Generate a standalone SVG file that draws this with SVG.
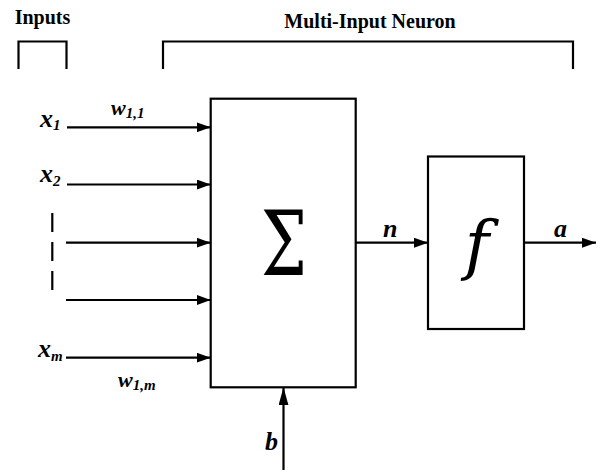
<svg xmlns="http://www.w3.org/2000/svg" width="600" height="475" viewBox="0 0 600 475">
<defs>
<style>
.ln{stroke:#000;stroke-width:2.2;fill:none}
.box{stroke:#000;stroke-width:2.2;fill:#fff}
.t{font-family:"Liberation Serif","Times New Roman",serif;fill:#000}
.hd{font-weight:bold;font-size:20px}
.v{font-style:italic;font-weight:bold;font-size:26px}
.w{font-style:italic;font-weight:bold;font-size:22px}
.sub{font-size:15px}
.big{font-family:"DejaVu Serif",serif;font-style:italic;font-weight:normal;font-size:66px}
.sig{font-family:"DejaVu Serif",serif;font-style:normal;font-weight:normal;font-size:90px}
</style>
<marker id="ah" markerUnits="userSpaceOnUse" markerWidth="14" markerHeight="10" refX="14" refY="5" orient="auto">
<path d="M0,0 L14,5 L0,10 Z" fill="#000"/>
</marker>
<marker id="ahv" markerUnits="userSpaceOnUse" markerWidth="18" markerHeight="10" refX="18" refY="5" orient="auto">
<path d="M0,0 L18,5 L0,10 Z" fill="#000"/>
</marker>
</defs>
<rect width="600" height="475" fill="#fff"/>
<g id="headers">
<text class="t hd" x="42.5" y="24" text-anchor="middle">Inputs</text>
<text class="t hd" x="370" y="28" text-anchor="middle">Multi-Input Neuron</text>
<path class="ln" d="M18.5,69 V41.5 H66.5 V69"/>
<path class="ln" d="M163,69 V41.5 H573 V69"/>
</g>
<g id="sum">
<rect class="box" x="210.7" y="98.7" width="145" height="288.6"/>
<text class="sig" x="261" y="275" textLength="46" lengthAdjust="spacingAndGlyphs">Σ</text>
</g>
<g id="f">
<rect class="box" x="428" y="156.5" width="96" height="172.5"/>
<text class="big" x="477" y="267" text-anchor="middle">f</text>
</g>
<g id="connectors">
<line class="ln" x1="67" y1="127.3" x2="210.7" y2="127.3" marker-end="url(#ah)"/>
<line class="ln" x1="67" y1="184.5" x2="210.7" y2="184.5" marker-end="url(#ah)"/>
<line class="ln" x1="66" y1="242.7" x2="210.7" y2="242.7" marker-end="url(#ah)"/>
<line class="ln" x1="66" y1="300" x2="210.7" y2="300" marker-end="url(#ah)"/>
<line class="ln" x1="66" y1="357.7" x2="210.7" y2="357.7" marker-end="url(#ah)"/>
<line class="ln" x1="52.3" y1="213" x2="52.3" y2="290" stroke-dasharray="19 10"/>
<line class="ln" x1="355.7" y1="242.7" x2="428" y2="242.7" marker-end="url(#ah)"/>
<line class="ln" x1="524" y1="242.7" x2="596" y2="242.7" marker-end="url(#ah)"/>
<line class="ln" x1="283.5" y1="470" x2="283.5" y2="387.3" marker-end="url(#ahv)"/>
</g>
<g id="labels">
<text class="t v" x="40" y="127">x<tspan class="sub" dy="3">1</tspan></text>
<text class="t v" x="40" y="182">x<tspan class="sub" dy="4">2</tspan></text>
<text class="t v" x="38" y="357">x<tspan class="sub" dy="4">m</tspan></text>
<text class="t w" x="111" y="115">w<tspan class="sub" dy="3">1,1</tspan></text>
<text class="t w" x="118" y="387">w<tspan class="sub" dy="3">1,m</tspan></text>
<text class="t v" x="383" y="237">n</text>
<text class="t v" x="554" y="237">a</text>
<text class="t v" x="265" y="450">b</text>
</g>
</svg>
